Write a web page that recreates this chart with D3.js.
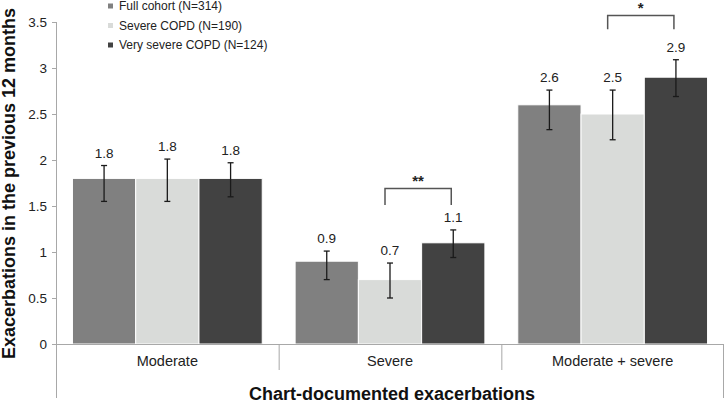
<!DOCTYPE html>
<html><head><meta charset="utf-8">
<script src="https://cdn.jsdelivr.net/npm/d3@7"></script>
<style>
html,body{margin:0;padding:0;background:#fff;}
svg{display:block;font-family:"Liberation Sans",Arial,sans-serif;}
</style></head>
<body>
<svg id="chart" width="727" height="404"></svg>
<script>
const categories = ["Moderate", "Severe", "Moderate + severe"];
const seriesNames = ["Full cohort (N=314)", "Severe COPD (N=190)", "Very severe COPD (N=124)"];
const seriesColors = ["#808080", "#d9dbd9", "#424242"];
const fullCohort = [1.8, 0.9, 2.6];
const severeCOPD = [1.8, 0.7, 2.5];
const verySevereCOPD = [1.8, 1.1, 2.9];
const errLow = [[1.55, 0.70, 2.33], [1.55, 0.50, 2.22], [1.60, 0.94, 2.69]];
const errHigh = [[1.94, 1.01, 2.76], [2.01, 0.88, 2.76], [1.97, 1.24, 3.09]];
const yTicks = [0, 0.5, 1, 1.5, 2, 2.5, 3, 3.5];
const sigMarks = [
  {cat: 1, from: 1, to: 2, label: "**", top: 1.69, bottom: 1.51},
  {cat: 2, from: 1, to: 2, label: "*", top: 3.57, bottom: 3.42}
];
const yTitle = "Exacerbations in the previous 12 months";
const xTitle = "Chart-documented exacerbations";

(function () {
const values = [fullCohort, severeCOPD, verySevereCOPD];
const svg = d3.select("#chart");
const mLeft = 56, mRight = 724, mTop = 22, mBottom = 344;

const y = d3.scaleLinear().domain([0, 3.5]).range([mBottom, mTop]);
const x0 = d3.scaleBand().domain(categories).range([mLeft, mRight]).paddingInner(0).paddingOuter(0);
const x1 = d3.scaleBand().domain(d3.range(seriesNames.length)).range([0, x0.bandwidth()]).paddingInner(0).paddingOuter(0.26);

const axisColor = "#a8a8a8";
const textColor = "#222";

// y axis
const yAxis = d3.axisLeft(y).tickValues(yTicks).tickSize(4).tickPadding(5).tickFormat(d3.format("~g"));
const gy = svg.append("g").attr("transform", `translate(${mLeft},0)`).call(yAxis);
gy.select(".domain").remove();
gy.selectAll(".tick line").attr("stroke", axisColor);
gy.selectAll(".tick text").attr("fill", textColor).style("font-size", "13.5px").style("font-family", "'Liberation Sans', Arial, sans-serif");
svg.append("line").attr("x1", mLeft + 0.5).attr("x2", mLeft + 0.5).attr("y1", y(3.5)).attr("y2", 398).attr("stroke", axisColor);

// bars
categories.forEach((c, ci) => {
  seriesNames.forEach((s, si) => {
    const v = values[si][ci];
    const bx = x0(c) + x1(si);
    svg.append("rect")
      .attr("x", bx).attr("y", y(v))
      .attr("width", x1.bandwidth()).attr("height", y(0) - y(v))
      .attr("fill", seriesColors[si])
      .attr("stroke", "#fff").attr("stroke-width", 1);
    const cx = bx + x1.bandwidth() / 2;
    const eh = y(errHigh[si][ci]), el = y(errLow[si][ci]);
    const g = svg.append("g").attr("stroke", "#1a1a1a").attr("stroke-width", 1.3);
    g.append("line").attr("x1", cx).attr("x2", cx).attr("y1", eh).attr("y2", el);
    g.append("line").attr("x1", cx - 3).attr("x2", cx + 3).attr("y1", eh).attr("y2", eh);
    g.append("line").attr("x1", cx - 3).attr("x2", cx + 3).attr("y1", el).attr("y2", el);
    svg.append("text").attr("x", cx).attr("y", eh - 8)
      .attr("text-anchor", "middle").attr("fill", textColor).style("font-size", "13.5px")
      .text(d3.format(".1f")(v));
  });
});

// x axis baseline & separators
svg.append("line").attr("x1", mLeft).attr("x2", mRight).attr("y1", mBottom + 0.5).attr("y2", mBottom + 0.5).attr("stroke", axisColor);
categories.forEach((c, ci) => {
  if (ci > 0) {
    svg.append("line").attr("x1", x0(c) + 0.5).attr("x2", x0(c) + 0.5).attr("y1", mBottom).attr("y2", 370).attr("stroke", axisColor);
  }
  svg.append("text").attr("x", x0(c) + x0.bandwidth() / 2).attr("y", 366)
    .attr("text-anchor", "middle").attr("fill", textColor).style("font-size", "14.5px").text(c);
});
svg.append("line").attr("x1", mRight - 0.5).attr("x2", mRight - 0.5).attr("y1", mBottom).attr("y2", 398).attr("stroke", axisColor);

// significance brackets
sigMarks.forEach(m => {
  const c = categories[m.cat];
  const xa = x0(c) + x1(m.from) + x1.bandwidth() / 2 - 5;
  const xb = x0(c) + x1(m.to) + x1.bandwidth() / 2 - 2;
  svg.append("path")
    .attr("d", `M${xa},${y(m.bottom)}V${y(m.top)}H${xb}V${y(m.bottom)}`)
    .attr("fill", "none").attr("stroke", "#555").attr("stroke-width", 1.5);
  svg.append("text").attr("x", (xa + xb) / 2).attr("y", y(m.top) - 3)
    .attr("text-anchor", "middle").attr("fill", textColor).style("font-size", "15px").style("font-weight", "bold")
    .text(m.label);
});

// legend
seriesNames.forEach((s, i) => {
  const ly = 6 + i * 19.5;
  svg.append("rect").attr("x", 108).attr("y", ly - 2.5).attr("width", 5).attr("height", 5).attr("fill", seriesColors[i]);
  svg.append("text").attr("x", 119).attr("y", ly + 4).attr("fill", textColor).style("font-size", "12px").text(s);
});

// titles
svg.append("text").attr("transform", `translate(15,${(5 + 362) / 2}) rotate(-90)`)
  .attr("text-anchor", "middle").attr("fill", "#111").style("font-size", "18px").style("font-weight", "bold").text(yTitle);
svg.append("text").attr("x", 392).attr("y", 400)
  .attr("text-anchor", "middle").attr("fill", "#111").style("font-size", "18px").style("font-weight", "bold").text(xTitle);
})();
</script>
</body></html>
